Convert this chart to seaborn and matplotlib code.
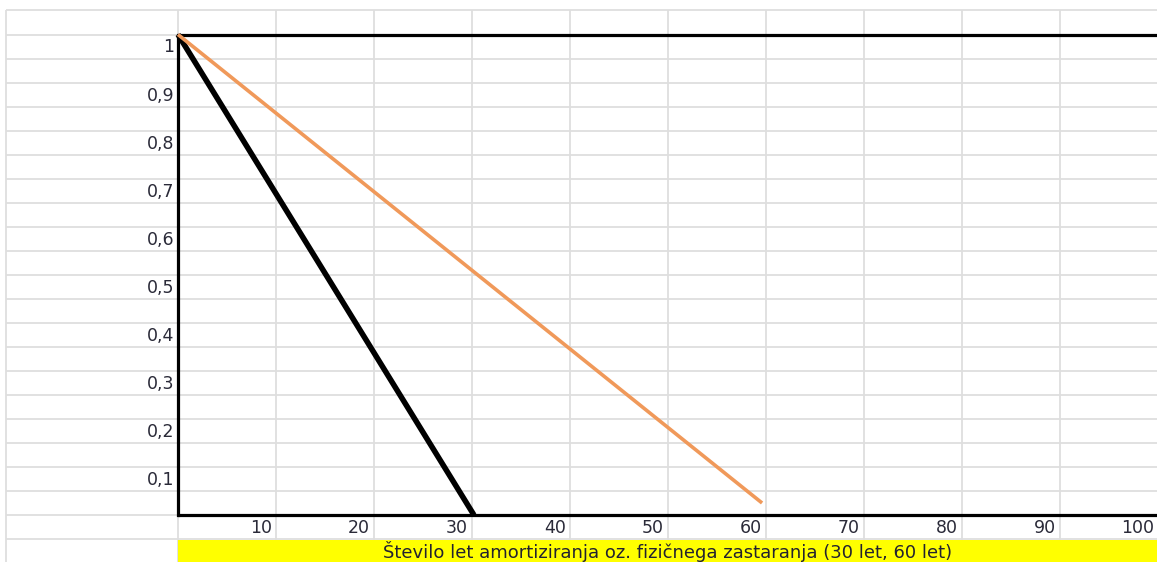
import pandas as pd
import seaborn as sns
import matplotlib.pyplot as plt

# line data (years, remaining value share)
years_30 = [0, 30.2]
value_30 = [1.0, 0.0]
years_60 = [0, 59.6]
value_60 = [1.0, 0.025]

x_ticks = [10, 20, 30, 40, 50, 60, 70, 80, 90, 100]
y_ticks = [1, 0.9, 0.8, 0.7, 0.6, 0.5, 0.4, 0.3, 0.2, 0.1]
y_tick_labels = ["1", "0,9", "0,8", "0,7", "0,6", "0,5", "0,4", "0,3", "0,2", "0,1"]
x_title = "Število let amortiziranja oz. fizičnega zastaranja (30 let, 60 let)"

df = pd.DataFrame({
    "leta": years_30 + years_60,
    "vrednost": value_30 + value_60,
    "serija": ["30 let"] * len(years_30) + ["60 let"] * len(years_60),
})

sns.set_style("white")
plt.rcParams['font.family'] = ['DejaVu Sans']

fig = plt.figure(figsize=(11.57, 5.62), dpi=100)
ax = fig.add_axes([0, 0, 1, 1])
ax.set_xlim(-18.16, 99.9)
ax.set_ylim(-0.0978, 1.0718)
ax.axis("off")

grid_c = "#dedede"
# spreadsheet-like background grid
row = 1.05
while row > -0.1:
    ax.hlines(row, -17.5, 101, color=grid_c, lw=1.3, zorder=0)
    row = round(row - 0.05, 2)
for gx in [-17.5] + [0] + x_ticks:
    ax.vlines(gx, -0.1, 1.05, color=grid_c, lw=1.3, zorder=0)

# yellow axis title band
ax.fill_between([0, 101], -0.0978, -0.052, color="#ffff00", zorder=1, lw=0)
ax.text(50, -0.076, x_title, ha="center", va="center", fontsize=13,
        color="#222230", zorder=2)

# chart frame
ax.plot([0, 0], [0, 1], color="black", lw=2.3, zorder=3, solid_capstyle="projecting")
ax.plot([0, 101], [1, 1], color="black", lw=2.3, zorder=3)
ax.plot([0, 101], [0, 0], color="black", lw=2.3, zorder=3)

sns.lineplot(data=df, x="leta", y="vrednost", hue="serija",
             palette={"30 let": "black", "60 let": "#f0995a"},
             legend=False, ax=ax, zorder=4)
ax.lines[-2].set_linewidth(4.0)
ax.lines[-1].set_linewidth(2.6)
for ln in ax.lines[-2:]:
    ln.set_solid_capstyle("butt")

for v, lab in zip(y_ticks, y_tick_labels):
    ax.text(-0.4, v - 0.027, lab, ha="right", va="center", fontsize=12.5,
            color="#2a2a38", zorder=2)
for v in x_ticks:
    ax.text(v - 0.4, -0.028, str(v), ha="right", va="center", fontsize=12.5,
            color="#2a2a38", zorder=2)

fig.savefig("out.png", dpi=100)
